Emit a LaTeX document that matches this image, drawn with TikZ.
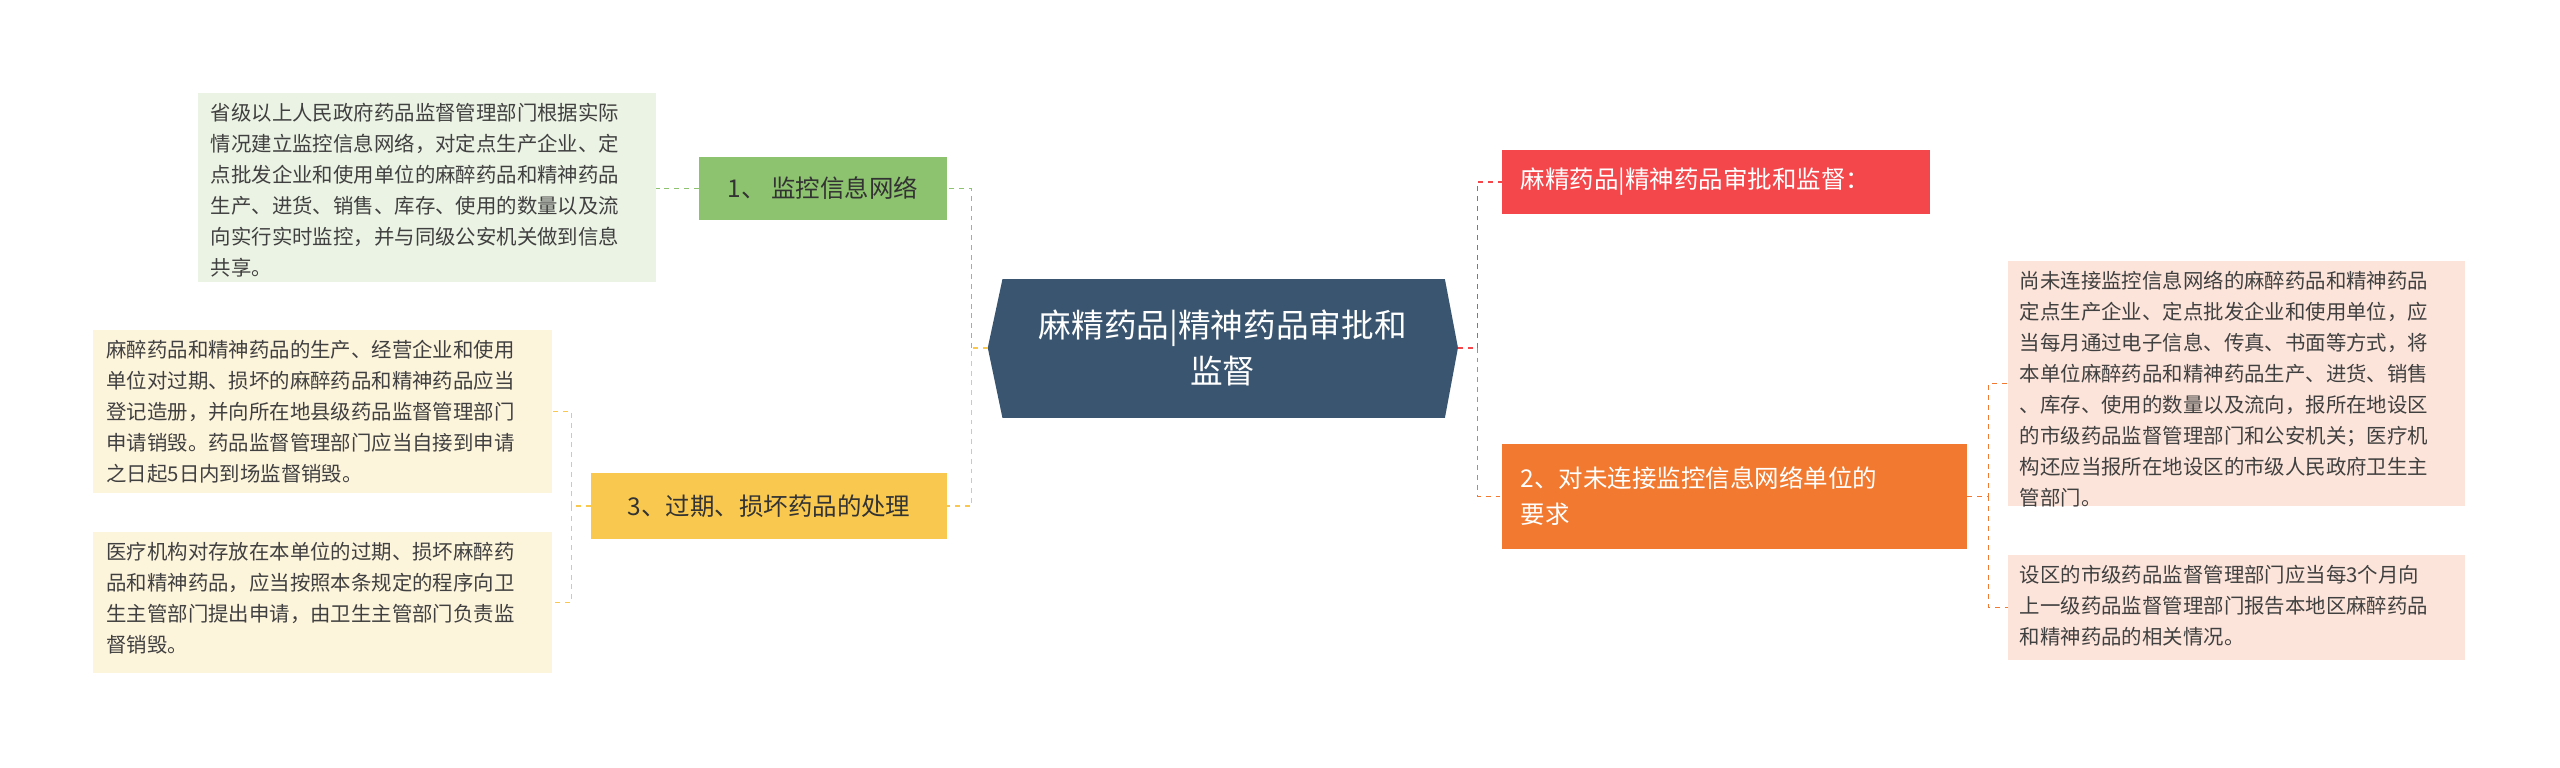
\documentclass[tikz,border=0pt]{standalone}
\usepackage{fontspec}
\setmainfont{Noto Sans CJK SC}
\usetikzlibrary{shapes.geometric}
\definecolor{cen}{HTML}{3A5570}
\definecolor{gr}{HTML}{8DC26F}
\definecolor{grl}{HTML}{EBF3E4}
\definecolor{ye}{HTML}{F9C94F}
\definecolor{yel}{HTML}{FDF4DC}
\definecolor{re}{HTML}{F3474B}
\definecolor{or}{HTML}{F17A30}
\definecolor{pk}{HTML}{FCE4DA}
\tikzset{
 leaf/.style={anchor=north west,align=left,inner sep=0pt,font=\fontsize{12.5}{19}\selectfont,text=black!75},
 con/.style={dashed,line width=1pt},
}
\begin{document}
\begin{tikzpicture}[x=1pt,y=-1pt]
\useasboundingbox (0,0) rectangle (1568,470);
% center
\fill[cen] (614,171)--(885,171)--(893,213)--(885,256)--(614,256)--(605,213)--cycle;
\node[text=white,align=center,font=\fontsize{20}{28}\selectfont] (c) at (749,213) {麻精药品|精神药品审批和\\监督};
% left branches
\fill[gr] (428,96) rectangle (580,135);
\node[font=\fontsize{15}{18}\selectfont,text=black!80] (g) at (504,115.5) {1、 监控信息网络};
\fill[grl] (121,57) rectangle (402,173);
\node[leaf] (gt) at (129,63) {省级以上人民政府药品监督管理部门根据实际\\情况建立监控信息网络，对定点生产企业、定\\点批发企业和使用单位的麻醉药品和精神药品\\生产、进货、销售、库存、使用的数量以及流\\向实行实时监控，并与同级公安机关做到信息\\共享。};
\fill[ye] (362,290) rectangle (580,330);
\node[font=\fontsize{15}{18}\selectfont,text=black!80] (y) at (471,310) {3、过期、损坏药品的处理};
\fill[yel] (57,202) rectangle (338,302);
\node[leaf] (y1) at (65,208) {麻醉药品和精神药品的生产、经营企业和使用\\单位对过期、损坏的麻醉药品和精神药品应当\\登记造册，并向所在地县级药品监督管理部门\\申请销毁。药品监督管理部门应当自接到申请\\之日起5日内到场监督销毁。};
\fill[yel] (57,326) rectangle (338,412);
\node[leaf] (y2) at (65,332) {医疗机构对存放在本单位的过期、损坏麻醉药\\品和精神药品，应当按照本条规定的程序向卫\\生主管部门提出申请，由卫生主管部门负责监\\督销毁。};
% right
\fill[re] (920,92) rectangle (1182,131);
\node[font=\fontsize{15}{18}\selectfont,text=white,anchor=west] (r) at (928,111.5) {麻精药品|精神药品审批和监督：};
\fill[or] (920,272) rectangle (1205,336);
\node[font=\fontsize{15}{22}\selectfont,text=white,anchor=west,align=left] (o) at (928,304) {2、对未连接监控信息网络单位的\\要求};
\fill[pk] (1230,160) rectangle (1510,310);
\node[leaf] (p1) at (1237,166) {尚未连接监控信息网络的麻醉药品和精神药品\\定点生产企业、定点批发企业和使用单位，应\\当每月通过电子信息、传真、书面等方式，将\\本单位麻醉药品和精神药品生产、进货、销售\\、库存、使用的数量以及流向，报所在地设区\\的市级药品监督管理部门和公安机关；医疗机\\构还应当报所在地设区的市级人民政府卫生主\\管部门。};
\fill[pk] (1230,340) rectangle (1510,404);
\node[leaf] (p2) at (1237,346) {设区的市级药品监督管理部门应当每3个月向\\上一级药品监督管理部门报告本地区麻醉药品\\和精神药品的相关情况。};
% connectors
\coordinate (cl) at (605,213); \coordinate (cr) at (893,213);
\draw[con,ye] (cl)--(595,213)--(595,310)--(580,310);
\draw[con,gr] (595,213)--(595,115.5)--(580,115.5);
\draw[con,gr] (428,115.5)--(402,115.5);
\draw[con,ye] (362,310)--(350,310)--(350,252)--(338,252);
\draw[con,ye] (350,310)--(350,369)--(338,369);
\draw[con,re] (cr)--(905,213)--(905,111.5)--(920,111.5);
\draw[con,or] (905,213)--(905,304)--(920,304);
\draw[con,or] (1205,304)--(1218,304)--(1218,235)--(1230,235);
\draw[con,or] (1218,304)--(1218,372)--(1230,372);
\end{tikzpicture}
\end{document}
